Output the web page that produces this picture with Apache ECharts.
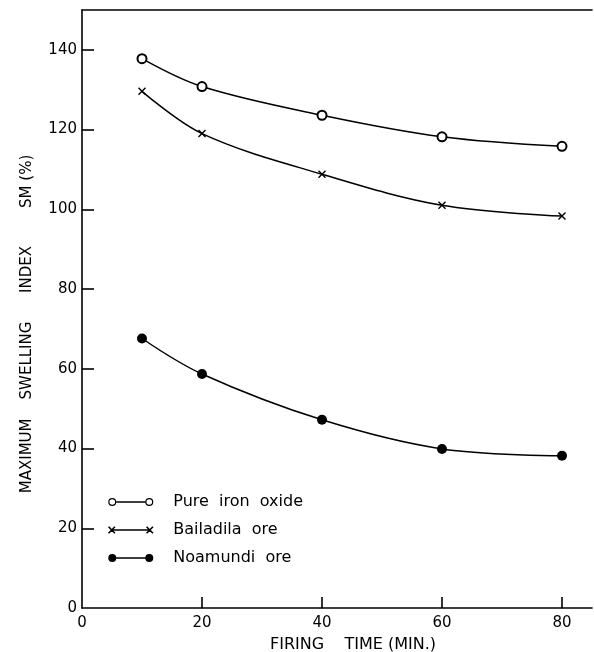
<!DOCTYPE html>
<html><head><meta charset="utf-8">
<script src="https://cdn.jsdelivr.net/npm/echarts@6/dist/echarts.min.js"></script>
<style>html,body{margin:0;padding:0;background:#fff}#c{width:594px;height:652px}</style>
</head><body><div id="c"></div>
<script>
// ---- data ----
const firingTime = [10, 20, 40, 60, 80];
const pureIronOxide = [137.8, 130.8, 123.6, 118.2, 115.8];
const bailadilaOre = [129.6, 119.0, 108.8, 101.0, 98.3];
const noamundiOre = [67.6, 58.7, 47.2, 39.9, 38.2];
const seriesNames = ['Pure iron oxide', 'Bailadila ore', 'Noamundi ore'];
const xTickValues = [20, 40, 60, 80];
const xLabelValues = [0, 20, 40, 60, 80];
const yTickValues = [20, 40, 60, 80, 100, 120, 140];
const yLabelValues = [0, 20, 40, 60, 80, 100, 120, 140];
const xTitle = 'FIRING    TIME (MIN.)';
const yTitle = 'MAXIMUM    SWELLING      INDEX        SM (%)';

// ---- icon path helpers ----
function circ(cx, cy, r, ccw) {
  const s = ccw ? 0 : 1;
  return `M${cx - r},${cy} A${r},${r} 0 1,${s} ${cx + r},${cy} A${r},${r} 0 1,${s} ${cx - r},${cy} Z `;
}
function ring(cx, cy, r, ri) { return circ(cx, cy, r, false) + circ(cx, cy, ri, true); }
function rect(x1, x2, cy, t) {
  return `M${x1},${cy - t / 2} L${x2},${cy - t / 2} L${x2},${cy + t / 2} L${x1},${cy + t / 2} Z `;
}
function cross(cx, cy, h, w) {
  const p = w / Math.SQRT2;
  const a = [[cx - h + p, cy - h - p], [cx + h + p, cy + h - p], [cx + h - p, cy + h + p], [cx - h - p, cy - h + p]];
  const b = [[cx - h + p, cy + h + p], [cx - h - p, cy + h - p], [cx + h - p, cy - h - p], [cx + h + p, cy - h + p]];
  const poly = pts => 'M' + pts.map(q => q[0] + ',' + q[1]).join(' L') + ' Z ';
  return poly(a) + poly(b);
}
const iconRing = 'path://' + ring(4, 4, 4, 2.8) + ring(41, 4, 4, 2.8) + rect(8, 37, 4, 1.4);
const iconCross = 'path://' + cross(3.5, 4, 3.2, 0.8) + cross(41.5, 4, 3.2, 0.8) + rect(4, 41, 4, 1.4) + 'M0,0 L0.01,0 L0.01,0.01 Z M44.99,7.99 L45,7.99 L45,8 Z';
const iconDisc = 'path://' + circ(4, 4, 4, false) + circ(41, 4, 4, false) + rect(6, 39, 4, 1.5);
const crossSymbol = 'path://' + cross(5, 5, 5, 1.0);

const pts = ys => firingTime.map((x, i) => [x, ys[i]]);
const font = 'DejaVu Sans';

const chart = echarts.init(document.getElementById('c'), null, { renderer: 'canvas' });
chart.setOption({
  animation: false,
  backgroundColor: '#fff',
  grid: { left: 82, right: 2, top: 10, bottom: 44, containLabel: false, outerBoundsMode: 'none' },
  xAxis: [{
    type: 'value', min: 0, max: 85, position: 'bottom',
    axisLine: { show: true, onZero: false, lineStyle: { color: '#000', width: 1.6 } },
    axisTick: { show: true, inside: true, length: 11, customValues: xTickValues, lineStyle: { color: '#000', width: 1.6 } },
    axisLabel: { customValues: xLabelValues, margin: 8, fontSize: 15, fontFamily: font, color: '#000' },
    splitLine: { show: false },
    name: xTitle, nameLocation: 'middle', nameGap: 29,
    nameTextStyle: { fontSize: 16, fontFamily: font, color: '#000', padding: [0, 0, 0, 32] }
  }, {
    type: 'value', min: 0, max: 85, position: 'top',
    axisLine: { show: true, onZero: false, lineStyle: { color: '#000', width: 1.6 } },
    axisTick: { show: false }, axisLabel: { show: false }, splitLine: { show: false }
  }],
  yAxis: {
    type: 'value', min: 0, max: 150,
    axisLine: { show: true, onZero: false, lineStyle: { color: '#000', width: 1.6 } },
    axisTick: { show: true, inside: true, length: 12, customValues: yTickValues, lineStyle: { color: '#000', width: 1.6 } },
    axisLabel: { customValues: yLabelValues, margin: 5, fontSize: 15, fontFamily: font, color: '#000' },
    splitLine: { show: false }
  },
  legend: {
    orient: 'vertical', left: 108, top: 494, padding: 0,
    itemWidth: 75, itemHeight: 8, itemGap: 12, selectedMode: false,
    itemStyle: { color: '#000', borderWidth: 0 },
    textStyle: { fontSize: 16, fontFamily: font, color: '#000' },
    formatter: n => n.replace(/ /g, '  '),
    data: [
      { name: seriesNames[0], icon: iconRing },
      { name: seriesNames[1], icon: iconCross },
      { name: seriesNames[2], icon: iconDisc }
    ]
  },
  graphic: [{
    type: 'text', x: 27, y: 324, rotation: Math.PI / 2,
    style: { text: yTitle, font: `15px "${font}"`, fill: '#000', align: 'center', verticalAlign: 'middle' }
  }],
  series: [{
    name: seriesNames[0], type: 'line', data: pts(pureIronOxide), smooth: 0.35,
    symbol: 'emptyCircle', symbolSize: 9,
    lineStyle: { color: '#000', width: 1.5 },
    itemStyle: { color: '#000', borderColor: '#000', borderWidth: 1.5 }
  }, {
    name: seriesNames[1], type: 'line', data: pts(bailadilaOre), smooth: 0.35,
    symbol: crossSymbol, symbolSize: 8,
    lineStyle: { color: '#000', width: 1.5 },
    itemStyle: { color: '#000', borderWidth: 0 }
  }, {
    name: seriesNames[2], type: 'line', data: pts(noamundiOre), smooth: 0.35,
    symbol: 'circle', symbolSize: 10,
    lineStyle: { color: '#000', width: 1.5 },
    itemStyle: { color: '#000' }
  }]
});
</script>
</body></html>
